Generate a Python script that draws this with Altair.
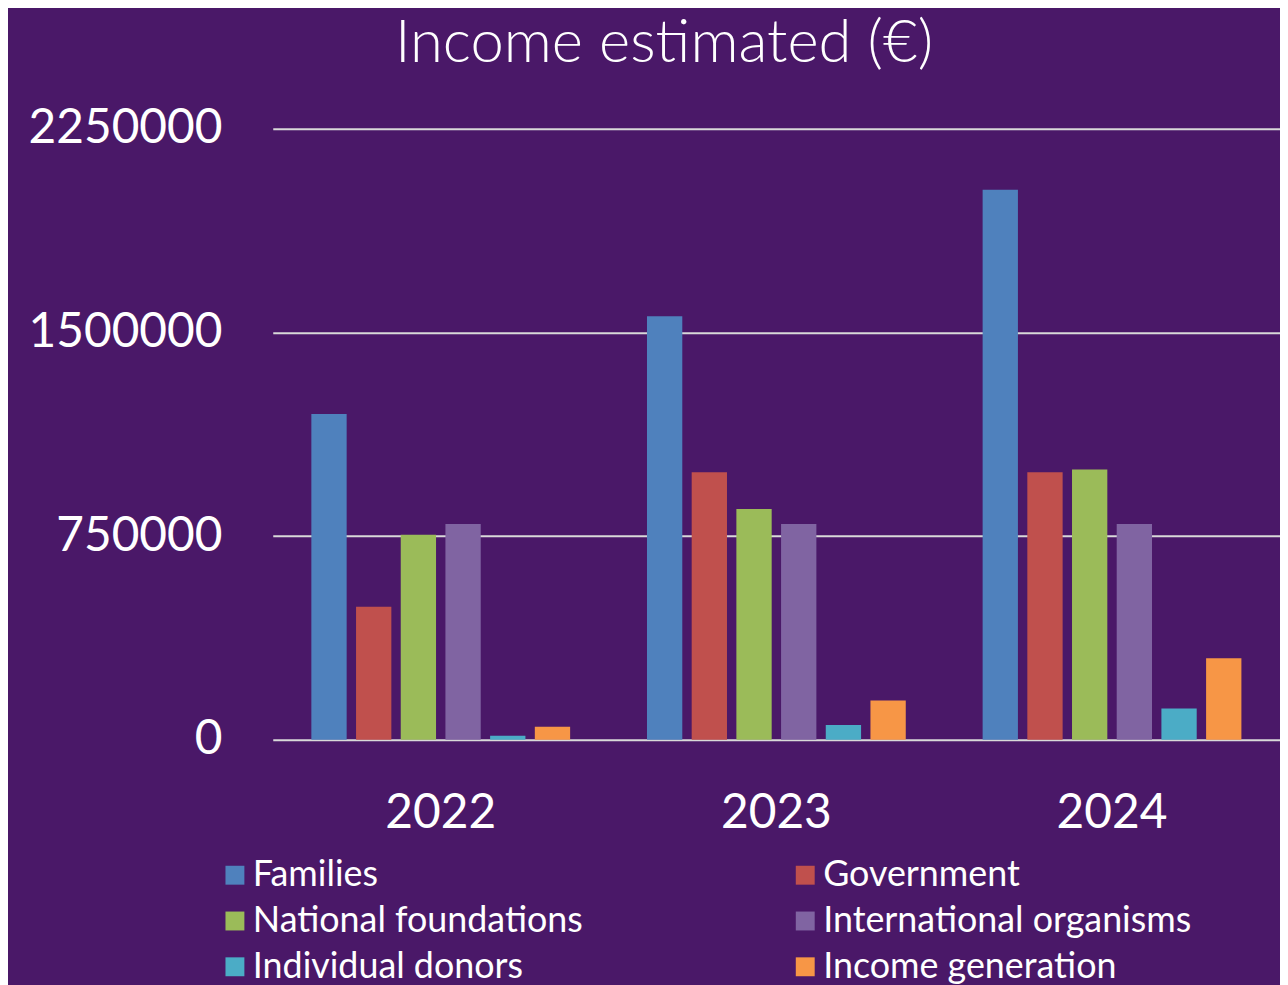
import altair as alt
import pandas as pd

years = ["2022", "2023", "2024"]
sources = ["Families", "Government", "National foundations",
           "International organisms", "Individual donors", "Income generation"]
families = [1200000, 1560000, 2025000]
government = [490000, 985000, 985000]
national = [755000, 850000, 995000]
international = [795000, 795000, 795000]
individual = [15000, 55000, 115000]
income_gen = [48000, 145000, 300000]
colors = ["#4f81bd", "#c0504d", "#9bbb59", "#8064a2", "#4bacc6", "#f79646"]
y_ticks = [0, 750000, 1500000, 2250000]

series = [families, government, national, international, individual, income_gen]
rows = []
for s, vals in zip(sources, series):
    for yr, v in zip(years, vals):
        rows.append({"year": yr, "source": s, "value": v})
df = pd.DataFrame(rows)

FONT = "Lato"

chart = alt.Chart(df).mark_bar().encode(
    x=alt.X("year:N", sort=years,
            scale=alt.Scale(paddingInner=0.229, paddingOuter=0.115),
            axis=alt.Axis(title=None, labelAngle=0, labelFontSize=48, labelColor="white",
                          labelFont=FONT, labelPadding=50, ticks=False, domain=False)),
    xOffset=alt.XOffset("source:N", sort=sources, scale=alt.Scale(paddingInner=0.21, paddingOuter=0)),
    y=alt.Y("value:Q", scale=alt.Scale(domain=[0, 2250000], nice=False),
            axis=alt.Axis(title=None, values=y_ticks, format="d", labelFontSize=48,
                          labelColor="white", labelFont=FONT, labelPadding=51, labelLimit=400,
                          ticks=False, domain=False, gridColor="#d9d9d9", gridWidth=2)),
    color=alt.Color("source:N", sort=sources,
                    scale=alt.Scale(domain=sources, range=colors),
                    legend=alt.Legend(title=None, orient="none", legendX=-56, legendY=732,
                                      columns=2, symbolType="square", symbolSize=361,
                                      symbolStrokeWidth=0, labelFontSize=36, labelColor="white",
                                      labelFont=FONT, labelLimit=600, rowPadding=10,
                                      columnPadding=205, labelOffset=0, direction="horizontal")),
).properties(
    width=1012,
    height=614,
    title=alt.TitleParams("Income estimated (€)", fontSize=60, font=FONT, fontWeight=300,
                          color="white", anchor="middle", frame="bounds", offset=30, dx=10),
    padding={"left": 20, "top": 4, "right": 0, "bottom": 0},
).configure(background="#4a1868").configure_view(stroke=None)

chart.save("out.html", embed_options={"renderer": "svg", "actions": False})
